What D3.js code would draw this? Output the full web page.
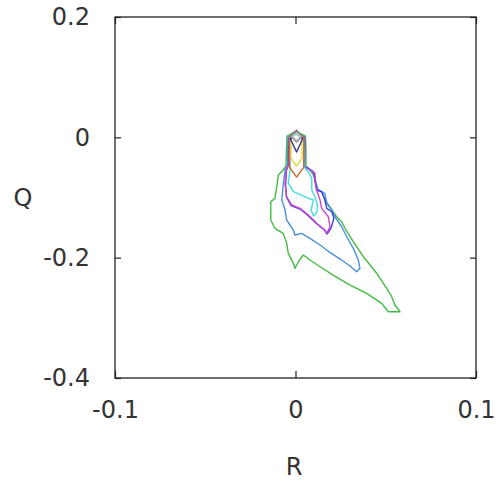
<!DOCTYPE html>
<html>
<head>
<meta charset="utf-8">
<script src="https://cdn.jsdelivr.net/npm/d3@7"></script>
<style>
    body { margin: 0; background: #fff; }
    text { font-family: "DejaVu Sans", sans-serif; fill: #333; }
</style>
</head>
<body>
<div id="chart"></div>
<script>
// axis ticks
const xTicks = [-0.1, 0, 0.1];
const yTicks = [0.2, 0, -0.2, -0.4];

// contour lines, [R, Q] pairs, outer level first
const greenLevel = [
    [0.0003, 0.0105], [-0.0047, 0.0022], [-0.005, -0.0211], [-0.0053, -0.0477],
    [-0.0068, -0.0543], [-0.0095, -0.0626], [-0.0104, -0.0821], [-0.0114, -0.1014],
    [-0.0137, -0.107], [-0.0137, -0.1374], [-0.0114, -0.1512], [-0.0068, -0.1596],
    [-0.0049, -0.1762], [-0.004, -0.1928], [-0.0012, -0.2094], [-0.0003, -0.2177],
    [0.0016, -0.2068], [0.0043, -0.1956], [0.008, -0.2039], [0.0136, -0.2151],
    [0.0209, -0.2289], [0.0302, -0.2455], [0.0394, -0.2593], [0.0478, -0.2759],
    [0.0514, -0.2899], [0.0579, -0.2899], [0.0551, -0.2787], [0.0533, -0.2649],
    [0.0505, -0.251], [0.045, -0.226], [0.0376, -0.1984], [0.032, -0.1735],
    [0.0274, -0.1512], [0.0256, -0.1403], [0.0228, -0.132], [0.0209, -0.1237],
    [0.0163, -0.1042], [0.0145, -0.0904], [0.0117, -0.0848], [0.0108, -0.0655],
    [0.008, -0.0543], [0.0058, -0.0477], [0.0058, -0.0211], [0.0055, 0.0022]
];
const steelLevel = [
    [0.0003, 0.0086], [-0.0042, 0.0005], [-0.0044, -0.046], [-0.0058, -0.0543],
    [-0.0068, -0.0793], [-0.0076, -0.1042], [-0.0058, -0.1209], [-0.0049, -0.1374],
    [-0.0012, -0.1541], [-0.0003, -0.1624], [0.0034, -0.1596], [0.008, -0.1679],
    [0.0136, -0.1789], [0.018, -0.189], [0.0247, -0.2023], [0.0302, -0.2139],
    [0.0339, -0.2234], [0.0357, -0.2177], [0.0348, -0.2039], [0.032, -0.1845],
    [0.0284, -0.1652], [0.0256, -0.1486], [0.0219, -0.132], [0.0201, -0.1208],
    [0.0173, -0.1097], [0.0163, -0.0931], [0.0126, -0.0876], [0.0108, -0.071],
    [0.0099, -0.0572], [0.0053, -0.0477], [0.0053, 0.0005]
];
const blueLevel = [
    [0.0003, 0.0071], [-0.0036, -0.0012], [-0.0039, -0.046], [-0.005, -0.0543],
    [-0.0055, -0.0793], [-0.005, -0.0992], [-0.0025, -0.1133], [0.0025, -0.1192],
    [0.0069, -0.13], [0.0116, -0.1433], [0.0163, -0.1549], [0.0175, -0.1607],
    [0.0197, -0.1507], [0.0213, -0.1341], [0.0201, -0.1237], [0.0173, -0.118],
    [0.0163, -0.1042], [0.0145, -0.0904], [0.0117, -0.0876], [0.0108, -0.071],
    [0.0099, -0.0572], [0.005, -0.0477], [0.005, -0.0012]
];
const magentaLevel = [
    [0.0003, 0.0063], [-0.0033, -0.002], [-0.0036, -0.046], [-0.0049, -0.0515],
    [-0.0058, -0.0765], [-0.0049, -0.0987], [-0.0021, -0.1125], [0.0025, -0.118],
    [0.0071, -0.1291], [0.0117, -0.1429], [0.0163, -0.1541], [0.0173, -0.1596],
    [0.0191, -0.1486], [0.0182, -0.132], [0.0145, -0.118], [0.0136, -0.1042],
    [0.0117, -0.0876], [0.0108, -0.0738], [0.0108, -0.0598], [0.008, -0.0543],
    [0.0047, -0.0489], [0.0047, -0.002]
];
const cyanLevel = [
    [0.0003, 0.0055], [-0.003, -0.0028], [-0.003, -0.0543], [-0.004, -0.076],
    [-0.0012, -0.0904], [0.0034, -0.0959], [0.0071, -0.1014], [0.0099, -0.1042],
    [0.0086, -0.1208], [0.01, -0.1308], [0.0119, -0.1242], [0.0122, -0.1125],
    [0.0108, -0.0987], [0.009, -0.0876], [0.009, -0.0681], [0.0071, -0.0572],
    [0.0053, -0.0515], [0.0044, -0.0028]
];
const orangeLevel = [
    [0.0003, 0.0105], [-0.0033, 0.0005], [-0.0033, -0.0494], [0.0006, -0.066],
    [0.0047, -0.0494], [0.0047, 0.0005]
];
const yellowLevel = [
    [0.0003, 0.0088], [-0.0025, -0.0012], [-0.0025, -0.0344], [0.0006, -0.0477],
    [0.0036, -0.0344], [0.0036, -0.0012]
];
const navyLevel = [
    [0.0006, 0.0105], [-0.0028, -0.0028], [0.0006, -0.0244], [0.0039, -0.0028]
];
const grayLevel = [
    [0.0006, 0.0121], [0.0036, 0.0013], [0.0006, -0.0078], [-0.0025, 0.0013]
];
const lightLevel = [
    [0.0006, 0.008], [0.0028, 0.0013], [0.0006, -0.0045], [-0.0017, 0.0013]
];

const levels = [
    { pts: greenLevel, color: "#44bb44" },
    { pts: steelLevel, color: "#4a8fdc" },
    { pts: blueLevel, color: "#4040ee" },
    { pts: magentaLevel, color: "#cc44cc" },
    { pts: cyanLevel, color: "#44dede" },
    { pts: orangeLevel, color: "#c8682c" },
    { pts: yellowLevel, color: "#e8d830" },
    { pts: navyLevel, color: "#333399" },
    { pts: grayLevel, color: "#888888" },
    { pts: lightLevel, color: "#c8c8c8" },
];

const width = 500;
const height = 482;
const plotLeft = 115, plotRight = 476, plotTop = 17, plotBottom = 378;

const svg = d3.select("#chart")
    .append("svg")
    .attr("width", width)
    .attr("height", height);

const x = d3.scaleLinear().domain([-0.1, 0.1]).range([plotLeft, plotRight]);
const y = d3.scaleLinear().domain([-0.4, 0.2]).range([plotBottom, plotTop]);

const fmt = (d) => String(d);

// contours
const line = d3.line()
    .x((d) => x(d[0]))
    .y((d) => y(d[1]))
    .curve(d3.curveLinearClosed);

svg.append("g")
    .selectAll("path")
    .data(levels)
    .enter()
    .append("path")
    .attr("d", (d) => line(d.pts))
    .attr("fill", "none")
    .attr("stroke", (d) => d.color)
    .attr("stroke-width", 1.4)
    .attr("stroke-linejoin", "round");

// axes, ticks pointing inward
const styleAxis = (g) => {
    g.select(".domain").remove();
    g.selectAll(".tick line").attr("stroke", "#222").attr("stroke-width", 1.2);
    g.selectAll("text")
        .attr("fill", "#333")
        .style("font-size", "24px")
        .style("font-family", "'DejaVu Sans', sans-serif");
};

svg.append("g")
    .attr("transform", `translate(0,${plotBottom})`)
    .call(d3.axisBottom(x).tickValues(xTicks).tickFormat(fmt)
        .tickSizeInner(-7).tickSizeOuter(0).tickPadding(23))
    .call(styleAxis);

svg.append("g")
    .attr("transform", `translate(0,${plotTop})`)
    .call(d3.axisTop(x).tickValues(xTicks).tickFormat("")
        .tickSizeInner(-7).tickSizeOuter(0))
    .call(styleAxis);

svg.append("g")
    .attr("transform", `translate(${plotLeft},0)`)
    .call(d3.axisLeft(y).tickValues(yTicks).tickFormat(fmt)
        .tickSizeInner(-6).tickSizeOuter(0).tickPadding(25))
    .call(styleAxis);

svg.append("g")
    .attr("transform", `translate(${plotRight},0)`)
    .call(d3.axisRight(y).tickValues(yTicks).tickFormat("")
        .tickSizeInner(-6).tickSizeOuter(0))
    .call(styleAxis);

// frame
svg.append("rect")
    .attr("x", plotLeft)
    .attr("y", plotTop)
    .attr("width", plotRight - plotLeft)
    .attr("height", plotBottom - plotTop)
    .attr("fill", "none")
    .attr("stroke", "#222")
    .attr("stroke-width", 1.3);

// axis titles
svg.append("text")
    .attr("x", 294)
    .attr("y", 475)
    .attr("text-anchor", "middle")
    .style("font-size", "24px")
    .text("R");

svg.append("text")
    .attr("x", 23)
    .attr("y", 206)
    .attr("text-anchor", "middle")
    .style("font-size", "24px")
    .text("Q");
</script>
</body>
</html>
